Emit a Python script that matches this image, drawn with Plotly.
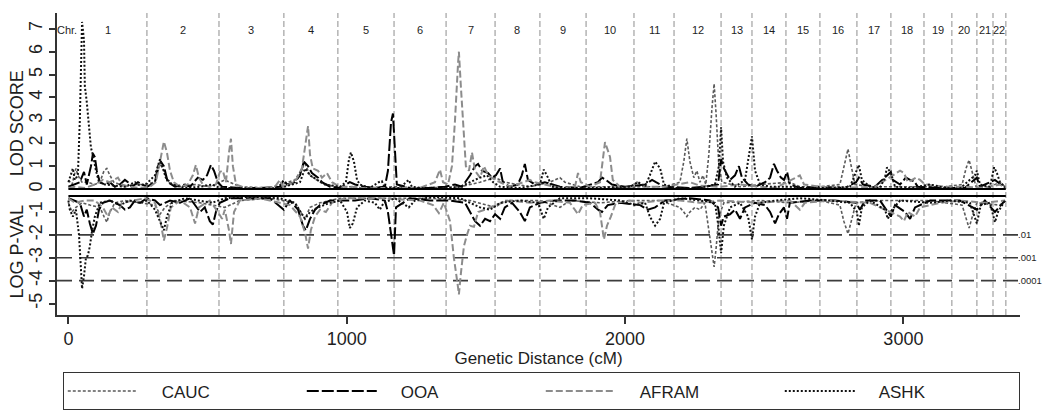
import plotly.graph_objects as go

# chromosome end positions (cM) and labels
chrom_ends = [282, 541, 774, 968, 1170, 1357, 1533, 1694, 1860, 2032, 2176,
              2345, 2456, 2578, 2700, 2833, 2955, 3074, 3174, 3264, 3322, 3368]
chrom_names = [str(i) for i in range(1, 23)]

# significance thresholds (log10 p) and their labels
thresh_vals = [-2, -3, -4]
thresh_labels = [".01", ".001", ".0001"]

# ---- CAUC ----
cauc_cm = [0, 13, 27, 34, 49, 70, 95, 113, 128, 138, 149, 163, 185, 203, 239, 275, 311, 329, 340, 357,
           401, 455, 508, 562, 616, 724, 814, 850, 868, 904, 958, 1011, 1065, 1173, 1263, 1353, 1407,
           1479, 1533, 1568, 1658, 1730, 1766, 1784, 1838, 1946, 2000, 2054, 2143, 2197, 2211, 2222,
           2233, 2247, 2258, 2269, 2280, 2290, 2301, 2312, 2320, 2327, 2337, 2348, 2413, 2485, 2592,
           2628, 2700, 2772, 2790, 2801, 2811, 2826, 2880, 2952, 3060, 3150, 3211, 3225, 3236, 3246,
           3261, 3311, 3347, 3365]
cauc_lod = [0.4, 0.2, 0.9, 0.6, 0.3, 0.3, 0.2, 0.3, 0.8, 0.9, 0.6, 0.3, 0.2, 0.1, 0.2, 0.2, 0.3, 1.1, 0.9, 0.3,
            0.1, 0.2, 0.1, 0.4, 0.1, 0.05, 0.4, 1.1, 0.6, 0.3, 0.1, 0.1, 0.05, 0.1, 0.05, 0.1, 0.1,
            0.3, 0.5, 0.3, 0.1, 0.3, 0.5, 0.3, 0.1, 0.1, 0.05, 0.1, 0.1, 0.3, 1.2, 2.2,
            1.2, 0.5, 0.8, 0.3, 0.6, 0.2, 1.5, 3.5, 4.6, 3.3, 1.0, 0.3, 0.1, 0.2, 0.3,
            0.1, 0.1, 0.2, 1.2, 1.75, 1.1, 0.2, 0.1, 0.1, 0.1, 0.1, 0.2, 0.9, 1.27, 0.8,
            0.1, 0.1, 0.3, 0.1]
cauc_p_cm = [0, 13, 27, 49, 77, 113, 128, 138, 149, 167, 203, 257, 311, 329, 347, 383, 473, 562, 616, 724,
             814, 850, 868, 904, 976, 1119, 1299, 1443, 1533, 1568, 1694, 1766, 1802, 1910, 2018, 2126,
             2197, 2211, 2222, 2233, 2251, 2269, 2287, 2301, 2312, 2320, 2327, 2337, 2355, 2485, 2592,
             2700, 2772, 2786, 2801, 2815, 2830, 2916, 3096, 3211, 3225, 3236, 3250, 3264, 3347, 3365]
cauc_p = [-0.6, -1.0, -0.8, -0.6, -0.7, -0.8, -1.2, -1.45, -1.0, -0.6, -0.5, -0.6, -0.7, -1.1, -0.8, -0.5,
          -0.6, -0.8, -0.5, -0.4, -0.6, -1.3, -0.8, -0.6, -0.4, -0.4, -0.4, -0.5, -0.8, -0.5, -0.5, -0.8,
          -0.5, -0.6, -0.5, -0.5, -0.8, -1.0, -1.2, -1.0, -0.8, -0.9, -0.6, -1.8, -2.8, -3.4, -2.6, -1.2,
          -0.6, -0.5, -0.6, -0.5, -0.7, -1.4, -1.95, -1.3, -0.6, -0.5, -0.5, -0.7, -1.3, -1.7, -1.1, -0.6,
          -0.7, -0.5]

# ---- OOA ----
ooa_cm = [0, 23, 41, 56, 66, 81, 88, 95, 102, 113, 131, 149, 167, 185, 203, 214, 228, 250, 264, 282, 311,
          322, 332, 343, 357, 383, 419, 437, 465, 483, 498, 512, 523, 537, 552, 616, 688, 760, 774, 785,
          814, 832, 846, 861, 875, 897, 911, 940, 976, 1011, 1030, 1065, 1101, 1137, 1148, 1159, 1166,
          1173, 1180, 1227, 1299, 1353, 1389, 1414, 1443, 1461, 1472, 1486, 1508, 1522, 1536, 1551,
          1561, 1586, 1615, 1629, 1640, 1651, 1676, 1712, 1766, 1838, 1903, 1917, 1931, 1953, 2000,
          2072, 2097, 2111, 2143, 2233, 2287, 2334, 2345, 2355, 2377, 2395, 2409, 2420, 2442, 2467,
          2503, 2521, 2535, 2546, 2560, 2571, 2582, 2592, 2628, 2700, 2790, 2830, 2840, 2855, 2898,
          2955, 2962, 2988, 3009, 3024, 3038, 3052, 3132, 3221, 3264, 3275, 3329, 3365]
ooa_lod = [0.1, 0.2, 0.3, 0.75, 0.2, 1.0, 1.55, 1.4, 0.8, 0.3, 0.2, 0.3, 0.1, 0.2, 0.4, 0.3, 0.1, 0.3, 0.2,
           0.1, 0.3, 1.0, 1.2, 1.0, 0.3, 0.1, 0.2, 0.1, 0.5, 0.4, 0.6, 1.05, 0.8, 0.3, 0.1, 0.05, 0.05,
           0.1, 0.4, 0.2, 0.3, 0.6, 1.2, 1.0, 0.7, 0.5, 0.3, 0.1, 0.05, 0.3, 0.2, 0.1, 0.05, 0.1, 0.8,
           2.9, 3.3, 2.0, 0.2, 0.05, 0.05, 0.1, 0.2, 0.1, 0.6, 1.0, 1.1, 0.8, 0.7, 0.5, 0.6, 0.9, 0.3,
           0.1, 0.2, 0.6, 1.1, 0.4, 0.2, 0.3, 0.1, 0.05, 0.3, 0.5, 0.4, 0.2, 0.1, 0.2, 0.4, 0.3, 0.1,
           0.05, 0.1, 0.2, 1.3, 0.9, 0.4, 0.6, 1.0, 0.5, 0.2, 0.1, 0.3, 0.5, 1.1, 0.8, 0.5, 0.4, 0.75,
           0.2, 0.05, 0.1, 0.05, 0.3, 0.5, 0.2, 0.1, 0.75, 0.4, 0.2, 0.5, 0.4, 0.35, 0.1, 0.05, 0.05,
           0.5, 0.1, 0.4, 0.05]
ooa_p_cm = [0, 23, 41, 56, 66, 77, 88, 99, 110, 124, 149, 185, 203, 221, 239, 257, 282, 311, 329, 347, 365,
            401, 437, 473, 490, 508, 519, 530, 544, 580, 652, 724, 774, 796, 825, 843, 853, 868, 886, 904,
            940, 993, 1030, 1083, 1137, 1148, 1155, 1163, 1170, 1177, 1227, 1299, 1371, 1425, 1443, 1461,
            1479, 1497, 1515, 1533, 1551, 1568, 1594, 1622, 1640, 1658, 1694, 1748, 1820, 1874, 1903,
            1917, 1938, 1982, 2054, 2082, 2108, 2143, 2233, 2305, 2334, 2345, 2355, 2377, 2395, 2413,
            2431, 2467, 2503, 2521, 2539, 2553, 2571, 2582, 2592, 2664, 2754, 2830, 2844, 2862, 2916,
            2955, 2970, 3006, 3024, 3042, 3096, 3203, 3264, 3293, 3329, 3365]
ooa_p = [-0.4, -0.5, -0.6, -1.2, -0.9, -1.5, -1.95, -1.6, -0.9, -0.6, -0.5, -0.7, -0.9, -0.8, -0.5, -0.6,
         -0.4, -0.5, -0.7, -0.6, -0.5, -0.6, -0.4, -1.0, -0.8, -1.4, -1.55, -1.0, -0.6, -0.4, -0.4, -0.4,
         -0.9, -0.5, -0.9, -1.6, -1.8, -1.3, -0.9, -0.7, -0.5, -0.5, -0.5, -0.4, -0.5, -1.0, -1.6, -2.5,
         -2.9, -0.8, -0.4, -0.5, -0.5, -0.6, -1.0, -1.4, -1.6, -1.3, -1.4, -1.1, -1.3, -0.8, -0.6, -1.0,
         -1.4, -0.8, -0.6, -0.5, -0.5, -0.6, -0.9, -1.0, -0.7, -0.6, -0.7, -0.9, -0.8, -0.5, -0.4, -0.5,
         -0.8, -1.6, -1.2, -1.1, -0.9, -1.3, -0.8, -0.6, -0.7, -1.0, -1.5, -1.1, -0.8, -1.3, -0.6, -0.5,
         -0.5, -0.6, -0.9, -0.5, -0.5, -1.2, -0.7, -1.0, -1.3, -0.8, -0.5, -0.5, -0.9, -0.5, -1.0, -0.5]

# ---- AFRAM ----
afram_cm = [0, 23, 59, 95, 124, 149, 178, 192, 221, 257, 293, 314, 329, 343, 354, 365, 379, 401, 429, 447,
            458, 469, 483, 508, 530, 544, 555, 566, 577, 584, 591, 602, 634, 706, 742, 760, 771, 814, 839,
            853, 861, 868, 878, 897, 911, 929, 947, 976, 1019, 1047, 1191, 1263, 1317, 1335, 1346, 1364,
            1378, 1389, 1400, 1403, 1410, 1418, 1428, 1439, 1450, 1461, 1479, 1493, 1508, 1533, 1551,
            1586, 1658, 1676, 1712, 1766, 1820, 1831, 1841, 1874, 1910, 1920, 1928, 1935, 1946, 1956,
            1982, 2018, 2043, 2072, 2143, 2233, 2269, 2341, 2413, 2485, 2539, 2614, 2628, 2643, 2700,
            2772, 2898, 2988, 3002, 3016, 3045, 3060, 3078, 3150, 3221, 3293, 3347, 3365]
afram_lod = [0.05, 0.1, 0.05, 0.2, 0.4, 0.3, 0.5, 0.2, 0.1, 0.05, 0.1, 0.3, 1.2, 2.07, 1.6, 0.8, 0.3, 0.1,
             0.2, 0.6, 1.05, 0.5, 0.2, 0.1, 0.2, 0.75, 0.8, 0.3, 1.6, 2.2, 1.0, 0.2, 0.05, 0.05, 0.1,
             0.4, 0.1, 0.3, 0.9, 2.0, 2.75, 1.5, 0.9, 0.8, 0.5, 0.7, 0.3, 0.1, 0.1, 0.05, 0.05, 0.05,
             0.3, 0.85, 0.3, 0.2, 1.0, 3.0, 5.5, 6.0, 4.5, 3.0, 1.0, 0.8, 1.6, 0.8, 0.5, 1.0, 0.6, 0.4,
             0.3, 0.1, 0.4, 0.3, 0.2, 0.05, 0.1, 0.7, 0.3, 0.1, 0.3, 1.3, 2.05, 1.8, 1.4, 0.4, 0.1, 0.05,
             0.3, 0.1, 0.1, 0.3, 0.15, 0.1, 0.2, 0.1, 0.05, 0.5, 0.6, 0.2, 0.1, 0.05, 0.1, 0.8, 0.7, 0.3,
             0.5, 0.4, 0.2, 0.1, 0.1, 0.05, 0.2, 0.05]
afram_p_cm = [0, 23, 59, 95, 124, 142, 156, 178, 192, 228, 275, 311, 329, 343, 354, 368, 401, 437, 455, 469,
              508, 537, 552, 562, 577, 584, 595, 616, 688, 760, 796, 832, 850, 861, 871, 886, 904, 925, 947,
              993, 1119, 1263, 1310, 1331, 1349, 1371, 1385, 1400, 1403, 1410, 1421, 1432, 1443, 1457,
              1472, 1497, 1533, 1586, 1658, 1730, 1802, 1831, 1848, 1892, 1910, 1924, 1935, 1949, 1967,
              2018, 2054, 2126, 2197, 2269, 2341, 2485, 2592, 2628, 2646, 2736, 2880, 2988, 3002, 3016,
              3042, 3060, 3132, 3203, 3293, 3365]
afram_p = [-0.4, -0.6, -0.5, -0.5, -0.8, -1.2, -0.8, -1.0, -0.6, -0.5, -0.4, -0.6, -1.3, -2.25, -1.7, -0.8,
           -0.5, -0.8, -1.5, -0.8, -0.5, -1.0, -1.3, -0.9, -1.8, -2.4, -1.0, -0.5, -0.4, -0.6, -0.7, -1.2,
           -1.9, -2.6, -1.8, -1.2, -0.9, -1.0, -0.6, -0.4, -0.4, -0.5, -0.7, -1.05, -0.6, -1.4, -3.0, -4.3,
           -4.6, -3.7, -2.5, -2.0, -1.6, -1.65, -1.0, -0.9, -0.7, -0.5, -0.6, -0.5, -0.6, -1.1, -0.7, -0.6,
           -1.0, -2.2, -1.6, -1.2, -0.6, -0.5, -0.6, -0.5, -0.5, -0.6, -0.5, -0.6, -0.5, -0.9, -0.6, -0.5,
           -0.6, -1.2, -1.4, -1.0, -1.2, -0.8, -0.6, -0.5, -0.6, -0.5]

# ---- ASHK ----
ashk_cm = [0, 5, 16, 23, 34, 41, 49, 56, 59, 66, 74, 81, 88, 99, 110, 131, 167, 203, 239, 257, 282, 311,
           329, 340, 350, 372, 419, 473, 516, 544, 598, 688, 760, 832, 850, 868, 897, 921, 976, 997, 1008,
           1015, 1026, 1037, 1047, 1083, 1115, 1126, 1137, 1191, 1213, 1223, 1234, 1299, 1371, 1407, 1443,
           1479, 1504, 1526, 1551, 1622, 1694, 1708, 1723, 1737, 1802, 1874, 1946, 2018, 2047, 2072, 2089,
           2108, 2126, 2140, 2179, 2269, 2323, 2337, 2345, 2352, 2366, 2395, 2431, 2449, 2456, 2467, 2485,
           2521, 2592, 2664, 2736, 2808, 2833, 2840, 2851, 2880, 2916, 2934, 2941, 2955, 2970, 3024, 3096,
           3150, 3203, 3257, 3264, 3275, 3311, 3326, 3336, 3347, 3365]
ashk_lod = [0.3, 0.5, 0.9, 0.4, 0.6, 3.0, 7.3, 6.5, 4.5, 3.8, 2.8, 1.8, 1.5, 0.8, 0.3, 0.2, 0.15, 0.1, 0.3,
            0.15, 0.25, 0.6, 1.3, 0.9, 0.5, 0.2, 0.05, 0.1, 0.2, 0.05, 0.05, 0.0, 0.05, 0.3, 0.9, 0.6, 0.4,
            0.2, 0.1, 0.3, 1.3, 1.6, 1.2, 0.4, 0.2, 0.05, 0.3, 0.35, 0.05, 0.05, 0.3, 0.4, 0.1, 0.0, 0.05,
            0.1, 0.3, 0.5, 0.6, 0.3, 0.1, 0.05, 0.2, 0.85, 0.5, 0.1, 0.02, 0.05, 0.05, 0.1, 0.3, 0.1, 0.6,
            1.2, 0.9, 0.2, 0.05, 0.05, 0.2, 1.0, 2.7, 1.2, 0.5, 0.1, 0.4, 1.8, 2.3, 0.8, 0.2, 0.1, 0.1,
            0.05, 0.05, 0.1, 0.8, 1.05, 0.4, 0.1, 0.05, 0.5, 0.95, 0.7, 0.1, 0.05, 0.2, 0.05, 0.02, 0.6,
            0.8, 0.2, 0.1, 0.95, 0.7, 0.3, 0.1]
ashk_p_cm = [0, 5, 16, 27, 38, 45, 49, 56, 63, 70, 77, 84, 95, 113, 149, 185, 221, 257, 282, 311, 329, 343,
             354, 372, 419, 473, 516, 562, 616, 688, 760, 814, 850, 868, 897, 940, 976, 1001, 1011, 1022,
             1037, 1065, 1101, 1119, 1133, 1173, 1209, 1223, 1245, 1299, 1407, 1479, 1515, 1551, 1622,
             1687, 1708, 1723, 1766, 1874, 1982, 2036, 2072, 2089, 2108, 2126, 2140, 2197, 2269, 2323,
             2334, 2345, 2355, 2377, 2413, 2442, 2456, 2467, 2485, 2539, 2628, 2736, 2808, 2833, 2840,
             2851, 2880, 2934, 2944, 2959, 2988, 3096, 3168, 3239, 3264, 3278, 3311, 3329, 3340, 3365]
ashk_p = [-0.5, -0.9, -1.2, -0.9, -2.0, -3.5, -4.35, -3.8, -3.0, -2.9, -2.5, -1.9, -1.2, -0.6, -0.5, -0.7,
          -0.5, -0.6, -0.5, -0.9, -1.4, -1.8, -1.2, -0.6, -0.4, -0.5, -0.6, -0.4, -0.35, -0.35, -0.4, -0.6,
          -1.3, -1.0, -0.8, -0.6, -0.5, -1.0, -1.7, -1.5, -0.8, -0.5, -0.6, -0.9, -0.6, -0.4, -0.7, -0.8,
          -0.5, -0.35, -0.4, -0.8, -0.9, -0.6, -0.5, -0.6, -1.3, -0.8, -0.4, -0.4, -0.5, -0.7, -0.6, -1.2,
          -1.6, -1.3, -0.6, -0.4, -0.5, -0.6, -1.5, -2.8, -1.6, -0.8, -0.6, -1.2, -2.2, -1.2, -0.6, -0.5,
          -0.4, -0.5, -0.6, -1.0, -1.6, -0.8, -0.5, -0.9, -1.3, -0.9, -0.5, -0.6, -0.5, -0.6, -1.5, -0.7,
          -0.6, -1.45, -1.0, -0.5]

FONT = "Liberation Sans, Arial, sans-serif"
TXT = "#1e1e1e"
PAD = "\u00a0\u00a0\u00a0\u00a0"  # gap between legend sample and its label

series = [
    ("CAUC", cauc_cm, cauc_lod, cauc_p_cm, cauc_p, dict(color="#5a5a5a", width=1.6, dash="3px,2px")),
    ("OOA", ooa_cm, ooa_lod, ooa_p_cm, ooa_p, dict(color="#000000", width=2, dash="12px,3px")),
    ("AFRAM", afram_cm, afram_lod, afram_p_cm, afram_p, dict(color="#8c8c8c", width=2, dash="7px,3px")),
    ("ASHK", ashk_cm, ashk_lod, ashk_p_cm, ashk_p, dict(color="#111111", width=2, dash="2px,2px")),
]

fig = go.Figure()
for name, xc, yl, xp, yp, line in series:
    fig.add_trace(go.Scatter(x=xc, y=yl, mode="lines", name=PAD + name, legendgroup=name,
                             line=line))
    fig.add_trace(go.Scatter(x=xp, y=yp, mode="lines", name=name, legendgroup=name,
                             showlegend=False, line=line))

# chromosome boundaries
for b in chrom_ends:
    fig.add_vline(x=b, line=dict(color="#b4b4b4", width=1.5, dash="6px,3px"), layer="below")

# chromosome labels
starts = [0] + chrom_ends[:-1]
for s, e, lab in zip(starts, chrom_ends, chrom_names):
    fig.add_annotation(x=(s + e) / 2, y=6.95, text=lab, showarrow=False,
                       font=dict(size=11, color=TXT))
fig.add_annotation(x=-5, y=6.95, text="Chr.", showarrow=False, font=dict(size=11, color=TXT))

# significance thresholds
for v, lab in zip(thresh_vals, thresh_labels):
    fig.add_hline(y=v, line=dict(color="#3c3c3c", width=1.6, dash="15px,7px"), layer="below")
    fig.add_annotation(x=0.997, xref="paper", y=v, text=lab, showarrow=False, xanchor="left",
                       font=dict(size=9.5, color=TXT), borderpad=0)

# baselines for LOD and p-value panels
for yb in [0, -0.3]:
    fig.add_shape(type="line", x0=0, x1=chrom_ends[-1], y0=yb, y1=yb,
                  line=dict(color="black", width=2))

# axis titles (left)
fig.add_annotation(x=-0.042, xref="paper", xanchor="center", y=2.85, text="LOD SCORE",
                   showarrow=False, textangle=-90, font=dict(size=18, color=TXT))
fig.add_annotation(x=-0.042, xref="paper", xanchor="center", y=-2.75, text="LOG P-VAL",
                   showarrow=False, textangle=-90, font=dict(size=18, color=TXT))

tick_vals = list(range(-5, 8))
# the page adds an 8px body margin, so the figure is drawn 8px smaller
fig.update_layout(
    width=1042, height=404,
    margin=dict(l=49, r=30, t=5, b=97, autoexpand=False),
    paper_bgcolor="white", plot_bgcolor="white",
    font=dict(family=FONT, color=TXT),
    showlegend=True,
    legend=dict(orientation="h", x=0.006, y=-0.19, xanchor="left", yanchor="top",
                bordercolor="#333", borderwidth=1, bgcolor="white",
                entrywidth=154, entrywidthmode="pixels", itemwidth=70,
                font=dict(size=17, family=FONT, color=TXT)),
    xaxis=dict(range=[-41, 3419], tickvals=[0, 1000, 2000, 3000], ticks="outside", ticklen=7,
               tickwidth=1.5, tickcolor="#333", showline=True, linecolor="#333", linewidth=1.5,
               showgrid=False, zeroline=False, tickfont=dict(size=18), automargin=False,
               title=dict(text="Genetic Distance (cM)", font=dict(size=17), standoff=2)),
    yaxis=dict(range=[-5.5, 7.69], tickvals=tick_vals, ticktext=[str(v) for v in tick_vals],
               tickangle=-90, ticks="outside", ticklen=6, tickwidth=1.5, tickcolor="#333",
               showline=True, linecolor="#333", linewidth=1.5, showgrid=False, zeroline=False,
               tickfont=dict(size=18), automargin=False),
)

fig.write_html("out.html")
